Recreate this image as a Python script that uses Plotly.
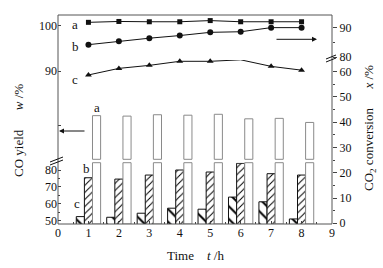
import plotly.graph_objects as go

# ---------------- data ----------------
times = [1, 2, 3, 4, 5, 6, 7, 8]
conv_a = [91.8, 92.1, 92.0, 92.0, 92.4, 92.0, 92.0, 92.0]
conv_b = [84.2, 85.4, 86.4, 87.3, 88.4, 88.6, 90.0, 90.0]
conv_c = [58.7, 61.3, 62.5, 64.1, 64.1, 64.7, 62.1, 60.6]
yield_a = [80.2, 80.1, 80.4, 80.3, 80.5, 79.5, 79.6, 78.7]
yield_b = [75.4, 74.6, 77.0, 80.0, 78.8, 84.0, 77.8, 77.0]
yield_c = [52.3, 51.9, 54.3, 57.3, 56.7, 63.9, 61.1, 50.9]
x_tick_vals = list(range(0, 10))
left_low_ticks = [50, 60, 70, 80]
left_high_ticks = [90, 100]
right_low_ticks = [0, 10, 20, 30, 40, 50, 60]
right_high_ticks = [80, 90]

# ---------------- geometry ----------------
W, H = 383, 268
L, R, T, B = 58, 332, 15, 224


def py(pix):
    return (B - pix) / (B - T)


def px_paper(pix):
    return (pix - L) / (R - L)


FONT = "Liberation Serif"
INK = "#111"

# axis ranges / domains
y_low_dom = [0, py(162.7)]
y_low_rng = [47.9, 84.34]
y2_rng = [56.3, 102.4]
y3_dom = [0, py(60)]
y3_rng = [-0.28, 64.62]
y4_dom = [py(57), 1]
y4_rng = [80, 94.3]


def y2_val(pix):
    return y2_rng[0] + py(pix) * (y2_rng[1] - y2_rng[0])


gap_hi = y2_val(159.3)
gap_lo = y2_val(162.7)

BW = 0.267
fig = go.Figure()

# bars c and b (lower-left axis)
fig.add_trace(go.Bar(
    x=times, y=yield_c, xaxis="x", yaxis="y", width=BW, offset=-0.4,
    marker=dict(color="white", line=dict(color=INK, width=1),
                pattern=dict(shape="\\", size=9, solidity=0.22,
                             fgcolor="#000", bgcolor="white", fillmode="replace")),
    showlegend=False))
fig.add_trace(go.Bar(
    x=times, y=yield_b, xaxis="x", yaxis="y", width=BW, offset=-0.133,
    marker=dict(color="white", line=dict(color=INK, width=1),
                pattern=dict(shape="/", size=5, solidity=0.2,
                             fgcolor="#000", bgcolor="white", fillmode="replace")),
    showlegend=False))

# bars a (broken into two pieces on the upper-left scale)
fig.add_trace(go.Bar(
    x=times, y=[v - gap_hi for v in yield_a], base=[gap_hi] * len(times),
    xaxis="x", yaxis="y2", width=BW, offset=0.133,
    marker=dict(color="white", line=dict(color="#8a8a8a", width=1)),
    showlegend=False))
fig.add_trace(go.Bar(
    x=times, y=[gap_lo - y2_rng[0]] * len(times), base=[y2_rng[0]] * len(times),
    xaxis="x", yaxis="y2", width=BW, offset=0.133,
    marker=dict(color="white", line=dict(color="#8a8a8a", width=1)),
    showlegend=False))

# conversion lines
fig.add_trace(go.Scatter(
    x=times, y=conv_a, xaxis="x", yaxis="y4", mode="lines+markers",
    line=dict(color=INK, width=1), marker=dict(symbol="square", size=5, color=INK),
    cliponaxis=False, showlegend=False))
fig.add_trace(go.Scatter(
    x=times, y=conv_b, xaxis="x", yaxis="y4", mode="lines+markers",
    line=dict(color=INK, width=1), marker=dict(symbol="circle", size=6, color=INK),
    cliponaxis=False, showlegend=False))
fig.add_trace(go.Scatter(
    x=times, y=conv_c, xaxis="x", yaxis="y3", mode="lines+markers",
    line=dict(color=INK, width=1), marker=dict(symbol="triangle-up", size=6, color=INK),
    cliponaxis=False, showlegend=False))

tickfont = dict(family=FONT, size=12, color=INK)

fig.update_layout(
    width=W, height=H, autosize=False,
    margin=dict(l=L, r=W - R, t=T, b=H - B, pad=0),
    paper_bgcolor="white", plot_bgcolor="rgba(0,0,0,0)",
    barmode="overlay",
    font=dict(family=FONT, size=12, color=INK),
    xaxis=dict(range=[0, 9], domain=[0, 1], anchor="y", tickvals=x_tick_vals,
               ticks="inside", ticklen=3, tickcolor="#444", showgrid=False,
               zeroline=False, showline=False, tickfont=tickfont,
               minor=dict(tickvals=[v + 0.5 for v in x_tick_vals[:-1]],
                          ticks="inside", ticklen=2, tickcolor="#444")),
    yaxis=dict(domain=y_low_dom, range=y_low_rng, anchor="x", side="left",
               tickvals=left_low_ticks, ticks="inside", ticklen=3, tickcolor="#444",
               showgrid=False, zeroline=False, showline=False, tickfont=tickfont,
               minor=dict(tickvals=[55, 65, 75], ticks="inside", ticklen=2,
                          tickcolor="#444")),
    yaxis2=dict(domain=[0, 1], range=y2_rng, anchor="x", side="left",
                tickvals=left_high_ticks + [78], ticktext=["90", "100", ""],
                ticks="inside", ticklen=3, tickcolor="#444",
                showgrid=False, zeroline=False, showline=False, tickfont=tickfont),
    yaxis3=dict(domain=y3_dom, range=y3_rng, anchor="x", side="right",
                tickvals=right_low_ticks, ticks="outside", ticklen=4, tickcolor="#444",
                showgrid=False, zeroline=False, showline=False, tickfont=tickfont,
                minor=dict(tickvals=[5, 15, 25, 35, 45, 55], ticks="outside",
                           ticklen=2, tickcolor="#444")),
    yaxis4=dict(domain=y4_dom, range=y4_rng, anchor="x", side="right",
                tickvals=right_high_ticks, ticks="outside", ticklen=4, tickcolor="#444",
                showgrid=False, zeroline=False, showline=False, tickfont=tickfont,
                minor=dict(tickvals=[85], ticks="outside", ticklen=2,
                           tickcolor="#444")),
)

shapes = [
    # plot frame
    dict(type="rect", xref="paper", yref="paper", x0=0, x1=1, y0=0, y1=1,
         line=dict(color="#555", width=1), layer="above"),
]
# break marks, left "//" and right "≈"
for dy in (0, 3):
    shapes.append(dict(type="line", xref="paper", yref="paper",
                       x0=px_paper(50), y0=py(162 + dy), x1=px_paper(63), y1=py(157 + dy),
                       line=dict(color=INK, width=1), layer="above"))
    shapes.append(dict(type="line", xref="paper", yref="paper",
                       x0=px_paper(326), y0=py(59 + dy), x1=px_paper(336), y1=py(55 + dy),
                       line=dict(color=INK, width=1), layer="above"))
fig.update_layout(shapes=shapes)

lab = dict(family=FONT, size=13, color=INK)
C = dict(xanchor="center", yanchor="middle", showarrow=False)
annotations = [
    dict(x=0.56, y=91.1, xref="x", yref="y4", text="a", font=lab, **C),
    dict(x=0.56, y=83.6, xref="x", yref="y4", text="b", font=lab, **C),
    dict(x=0.56, y=57.1, xref="x", yref="y3", text="c", font=lab, **C),
    dict(x=1.27, y=81.9, xref="x", yref="y2", text="a", font=lab, **C),
    dict(x=0.94, y=80.6, xref="x", yref="y", text="b", font=lab, **C),
    dict(x=0.61, y=60.2, xref="x", yref="y", text="c", font=lab, **C),
    # arrows
    dict(x=px_paper(317), y=py(39.3), xref="paper", yref="paper", text="",
         showarrow=True, ax=-42, ay=0, arrowhead=2, arrowsize=1, arrowwidth=1,
         arrowcolor=INK),
    dict(x=px_paper(59), y=py(131), xref="paper", yref="paper", text="",
         showarrow=True, ax=27, ay=0, arrowhead=2, arrowsize=1, arrowwidth=1,
         arrowcolor=INK),
    # axis titles
    dict(x=px_paper(195), y=py(255), xref="paper", yref="paper",
         text="Time&nbsp;&nbsp;&nbsp;&nbsp;<i>t</i> /h",
         font=dict(family=FONT, size=13, color=INK), **C),
    dict(x=px_paper(18), y=py(131), xref="paper", yref="paper", textangle=-90,
         text="CO yield&nbsp;&nbsp;&nbsp;&nbsp;&nbsp;&nbsp;<i>w</i> /%",
         font=dict(family=FONT, size=13, color=INK), **C),
    dict(x=px_paper(369), y=py(128), xref="paper", yref="paper", textangle=-90,
         text="CO<sub>2</sub> conversion&nbsp;&nbsp;&nbsp;&nbsp;&nbsp;&nbsp;<i>x</i> /%",
         font=dict(family=FONT, size=13, color=INK), **C),
]
fig.update_layout(annotations=annotations)

fig.write_html("out.html", config={"displayModeBar": False},
               post_script="document.body.style.margin='0';document.body.style.padding='0';")
